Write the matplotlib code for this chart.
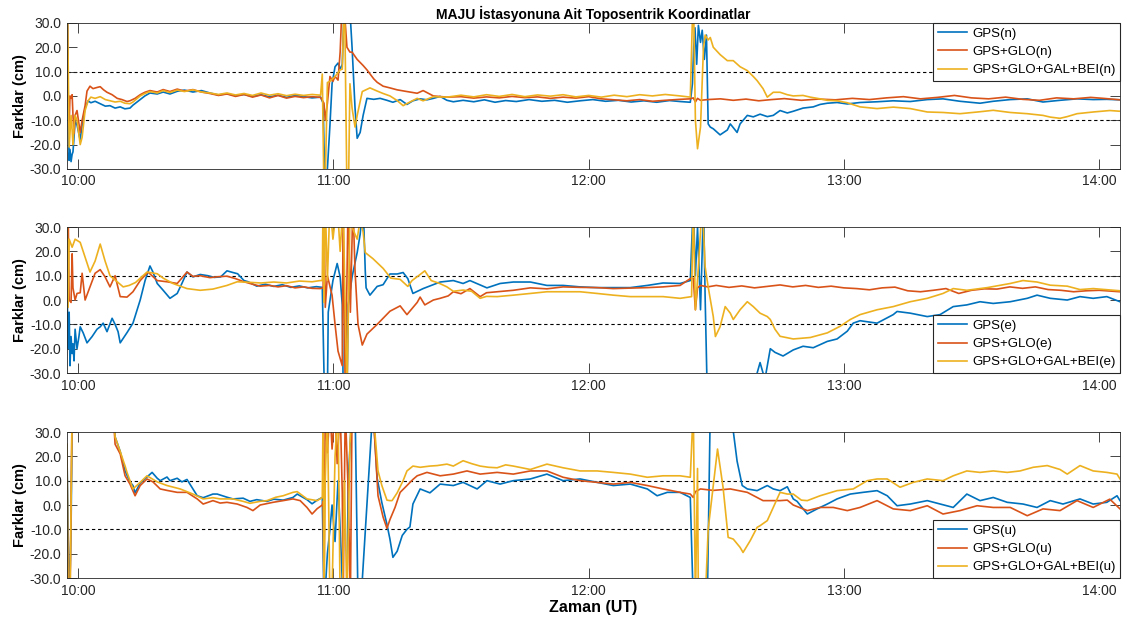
import numpy as np
import matplotlib
matplotlib.use("Agg")
import matplotlib.pyplot as plt

plt.rcParams["font.family"] = ["Liberation Sans", "DejaVu Sans"]

# Time axis: minutes after 10:00 UT; values: coordinate differences in cm.
TICK_MIN = [0, 60, 120, 180, 240]
TICK_LABELS = ["10:00", "11:00", "12:00", "13:00", "14:00"]
Y_TICKS = [-30, -20, -10, 0, 10, 20, 30]

SERIES_NAMES = ["GPS", "GPS+GLO", "GPS+GLO+GAL+BEI"]

# ── North component ───────────────────────────────────────────────────────────
gps_n = [(-2.5, 35), (-2.3, -10), (-2.1, -26.5), (-1.9, -22), (-1.65, -27), (-1.4, -24), (-1.2, -23),
         (-0.95, -17), (-0.7, -10), (-0.25, -12), (0.5, -18), (0.95, -12), (1.65, -5), (2.35, -2),
         (3.0, -2.8), (4.0, -2.2), (5.2, -3.2), (6.4, -4.2), (7.5, -4), (8.7, -5), (9.9, -4.5),
         (11.0, -5.3), (12.2, -5), (12.9, -3.8), (14.6, -1.5), (15.7, 0), (16.9, 1.2), (18.6, 0.8),
         (20.0, 1.6), (21.6, 0.8), (23.3, 1.9), (25.0, 2.4), (27.0, 1.6), (29.0, 2.2), (31.0, 1.2),
         (33.0, 0.4), (35.0, 0.9), (37.0, 0.1), (39.0, 0.6), (41.0, -0.2), (43.0, 0.5), (45.0, -0.4),
         (47.0, 0.3), (49.0, -0.6), (51.0, 0.2), (53.0, -0.3), (55.0, -0.8), (57.0, -0.5), (57.6, -3),
         (57.8, -20), (58.1, -35), (58.6, -30), (59.2, -12), (59.7, 5), (60.4, 12), (61.1, 13.5),
         (61.6, 11), (62.1, 13), (62.6, 40), (63.2, 45), (63.9, 35), (64.4, 20), (65.1, -5),
         (65.6, -17.4), (66.3, -15), (67.0, -8), (67.9, -1), (69.5, -1.4), (71.0, -1), (72.6, -1.8),
         (74.0, -2.6), (75.7, -1.5), (77.3, -3.5), (78.7, -2), (80.4, -1.2), (82.0, -1.6), (83.5, -1.0),
         (85.1, -0.2), (86.7, -1.8), (88.2, -2.4), (90.5, -1.8), (93.0, -2.4), (95.5, -1.6),
         (98.0, -2.6), (100.5, -1.9), (103, -2.3), (106, -1.5), (109, -2.2), (112, -1.8), (115, -2.6),
         (118, -2.0), (121, -1.5), (124, -2.2), (127, -1.8), (130, -2.5), (133, -2.0), (136, -2.6),
         (139, -1.9), (141.5, -2.3), (143.9, -2.6), (144.4, 5), (144.7, 20), (145.0, 28), (145.4, 13),
         (145.8, 29), (146.3, 22), (146.7, 27), (147.2, 15), (147.7, 25), (148.1, -11.5),
         (148.6, -12.8), (149.3, -13.5), (150.9, -16), (152.6, -14), (153.3, -11.5), (154.0, -13),
         (154.9, -15), (155.6, -11.5), (157.3, -8), (158.7, -8.6), (160.3, -7.5), (162.0, -8.5),
         (163.4, -8.0), (165.0, -6), (166.7, -7), (168.1, -6.3), (170.4, -5), (172.8, -4.5),
         (174.4, -3.5), (176.1, -3), (178.4, -2.7), (180.8, -3.3), (183.8, -2.7), (187.8, -2.4),
         (191.6, -2.0), (195.6, -2.3), (199.6, -1.5), (203.3, -1.2), (207.3, -2.2), (212.0, -3.0),
         (215.1, -2.2), (219.1, -1.5), (223.1, -1.2), (226.8, -2.5), (230.8, -1.8), (234.8, -1.2),
         (238.6, -1.5), (241.8, -1.4), (244.9, -1.6)]

glo_n = [(-2.5, 35), (-2.3, -2), (-2.1, -12), (-1.9, 0), (-1.6, -1), (-1.4, 0.5), (-1.2, -8),
         (-0.95, -15.5), (-0.7, -8), (-0.25, -6), (0.5, -15), (0.95, -10), (1.65, -4), (2.1, 2),
         (2.8, 4), (3.5, 3), (4.5, 3.5), (5.2, 3.8), (6.0, 2.5), (6.8, 1.5), (8.0, 0.5), (9.2, -1),
         (10.3, -1.5), (11.5, -2.3), (12.2, -2.0), (13.4, -1), (14.6, 0.5), (15.7, 1.5), (16.9, 2.2),
         (18.6, 1.6), (20.0, 2.6), (21.6, 1.8), (23.3, 2.8), (25.0, 2.0), (27.0, 2.6), (29.0, 1.6),
         (31.0, 1.0), (33.0, 0.2), (35.0, 0.8), (37.0, -0.2), (39.0, 0.6), (41.0, -0.5), (43.0, 0.4),
         (45.0, -0.8), (47.0, 0.2), (49.0, -0.9), (51.0, -0.2), (53.0, -0.7), (55.0, -0.3),
         (57.0, -0.6), (57.8, -3), (58.1, -10), (58.6, -3), (59.2, 8), (59.9, 6), (60.4, 8),
         (61.1, 6.5), (61.6, 18), (62.1, 40), (62.6, 35), (63.2, 20), (63.9, 18), (64.4, 18),
         (65.6, 15), (67.0, 12.5), (67.9, 10.7), (69.5, 7), (70.3, 5.6), (71.7, 4), (73.3, 3.3),
         (75.0, 2.5), (77.3, 1.8), (79.7, 1.1), (81.1, 2.2), (83.5, 0), (86.7, -0.5), (90, -0.3),
         (93, -0.9), (96, -0.4), (99, -0.8), (102, -0.2), (105, -0.7), (108, -0.4), (111, -1.0),
         (114, -0.5), (117, -0.9), (120, -0.3), (123, -1.2), (126, -1.6), (129, -2.0), (132, -1.5),
         (135, -2.2), (138, -1.8), (141.5, -1.4), (143.9, -1.2), (144.6, -0.8), (145.1, -2.5),
         (145.6, -1.0), (146.3, -1.8), (148, -1.5), (151, -1.2), (154, -1.8), (157, -1.3),
         (160, -2.0), (163, -1.5), (166, -1.1), (170, -1.8), (174, -1.3), (178, -1.6), (182, -1.0),
         (186, -1.5), (190, -0.8), (194, -0.3), (198, -1.2), (202, -0.6), (206, 0.2), (210, -0.8),
         (214, -1.2), (218, -0.5), (222, -1.4), (226, -1.8), (230, -0.8), (234, -1.2), (238, -0.6),
         (241, -1.0), (244.9, -1.6)]

all_n = [(-2.5, 35), (-2.3, 10), (-2.1, -21), (-1.9, -15), (-1.65, -8), (-1.4, -14), (-1.2, -20),
         (-0.95, -12), (-0.7, -8), (-0.25, -10), (0.5, -20), (0.95, -17), (1.65, -6), (2.35, -2),
         (3.0, -0.5), (4.0, -1), (5.2, -0.3), (6.4, -1.5), (7.5, -2), (8.7, -2.5), (9.9, -2.2),
         (11.0, -3), (12.2, -3.2), (12.9, -2.5), (14.6, 0), (15.7, 1), (16.9, 1.8), (18.6, 1.2),
         (20.0, 2.2), (21.6, 1.4), (23.3, 2.4), (25.0, 1.8), (27.0, 2.5), (29.0, 1.6), (31.0, 1.2),
         (33.0, 0.6), (35.0, 1.2), (37.0, 0.4), (39.0, 1.0), (41.0, 0.2), (43.0, 1.2), (45.0, 0.3),
         (47.0, 0.9), (49.0, 0.1), (51.0, 0.7), (53.0, 0.2), (55.0, 0.6), (57.0, 0.3), (57.4, 9),
         (57.8, -40), (58.1, -35), (58.6, 5.5), (59.2, 6), (60.4, 8), (61.1, 9.5), (61.6, 10.7),
         (62.1, 11), (62.6, 45), (63.2, -40), (63.5, -45), (63.9, 5), (64.4, -5), (65.1, -12.8),
         (65.6, -8), (66.8, 1.8), (68.6, 3.3), (70.3, 2), (71.7, 1), (73.3, 0), (75.0, -1.9),
         (76.4, -4), (78.0, -2.5), (79.7, -1), (81.1, -2), (83.5, -0.3), (86.7, -0.5), (90, 0.3),
         (93, -0.4), (96, 0.5), (99, -0.2), (102, 0.6), (105, -0.3), (108, 0.4), (111, -0.1),
         (114, 0.5), (117, -0.4), (120, 0.2), (123, -0.5), (126, 0.3), (129, -0.3), (132, 0.5),
         (135, 0.0), (138, 0.6), (141.5, 0), (143.9, -0.5), (144.6, 45), (145.1, -10), (145.6, -21.7),
         (146.3, -12.8), (147.0, 20), (147.4, 25), (148.1, 23), (148.6, 24), (149.3, 20), (150.9, 17),
         (152.6, 14.5), (154.0, 14.5), (155.6, 12), (157.3, 10.4), (158.7, 8), (159.6, 6.3),
         (161.0, 3), (162.0, -0.5), (163.4, 1.5), (165.0, 1.5), (166.7, 0.5), (168.1, 0), (170.4, 0.2),
         (172.1, -0.5), (174.4, -1.2), (176.1, -1.8), (178.4, -2.0), (180.8, -2.8), (183.8, -4.5),
         (187.8, -5.2), (191.6, -4.6), (195.6, -5.2), (199.6, -6.6), (203.3, -6.8), (207.3, -7.3),
         (212.0, -6.5), (215.1, -5.9), (219.1, -6.8), (223.1, -7.3), (226.8, -8), (228.5, -8.7),
         (230.8, -9.2), (232.5, -8.5), (234.8, -7.3), (238.6, -6.6), (242.5, -6.0), (244.9, -6.3)]

# ── East component ────────────────────────────────────────────────────────────
gps_e = [(-2.6, 9), (-2.35, -20), (-2.1, -5), (-1.9, -27), (-1.65, -15), (-1.4, -22), (-1.2, -18),
         (-0.95, -25), (-0.7, -12), (-0.25, -20), (0.2, -15), (0.5, -11), (1.2, -13.5), (2.1, -17.6),
         (3.3, -15), (4.45, -12), (5.2, -11), (5.9, -9.5), (6.8, -13), (8.0, -7.5), (8.7, -10),
         (9.4, -13), (9.9, -17.6), (11.5, -13.4), (12.9, -9.5), (14.6, 0), (15.75, 8), (16.9, 14),
         (17.6, 11.5), (18.6, 6.8), (20.0, 4), (21.6, 0.7), (23.3, 2.7), (24.4, 6.8), (25.6, 11.5),
         (27.0, 9.5), (28.7, 10.5), (30.5, 10), (32.0, 9.3), (33.5, 9.5), (35.0, 12), (36.4, 11.3),
         (37.5, 10.8), (39.0, 8), (40.0, 7.5), (42.0, 5.7), (44.0, 6.5), (46.0, 5.6), (48.0, 6.3),
         (50.0, 5.2), (52.0, 5.8), (54.0, 5.0), (56.0, 5.5), (57.4, 5.2), (57.8, -30), (58.1, -45),
         (58.6, -40), (58.8, -5), (59.9, 8), (60.9, 15), (61.6, 9.5), (62.1, -2), (62.3, -35),
         (63.2, -40), (63.5, -2), (64.4, 9.5), (65.6, 19.5), (66.3, 27), (67.0, 40), (67.5, 12),
         (67.7, 5), (68.6, 2), (70.3, 5.6), (71.7, 6.3), (73.3, 10.7), (75.0, 10.7), (76.4, 11.3),
         (77.5, 8.8), (78.7, 2.7), (81.1, 4.7), (85.1, 7.4), (88.2, 8.0), (90.5, 6.8), (92.1, 8.0),
         (96.1, 5), (99.2, 6.8), (102.3, 7.4), (106.3, 7.4), (110.2, 6.0), (114.0, 6), (118.0, 5.4),
         (122.0, 5.1), (125.8, 5.1), (129.8, 5.1), (133.8, 6.0), (137.5, 7.0), (141.5, 6.8),
         (143.9, 8), (144.6, 40), (145.1, 10), (145.6, 30), (146.3, -4), (146.7, 20), (147.0, 40),
         (147.4, 0), (147.9, -40), (148.6, -45), (158, -40), (159.6, -30), (160.3, -25.7),
         (161.0, -30), (161.5, -32), (162.7, -20), (163.8, -21.5), (165.7, -23), (168.1, -20.5),
         (170.4, -19), (172.8, -19.6), (176.1, -17), (178.4, -16), (180.8, -12.8), (182.2, -9.5),
         (183.8, -8.5), (187.8, -9.5), (191.6, -6), (192.5, -4.7), (195.6, -5.4), (199.6, -6.8),
         (202.6, -6.0), (205.7, -2.7), (208.9, -2.0), (212.0, -0.7), (215.1, -1.4), (219.1, -0.7),
         (223.1, 0.7), (225.4, 2.0), (228.5, 0.7), (232.5, 0), (235.5, 1.4), (238.6, 0.7),
         (241.8, 1.4), (244.9, -0.7)]

glo_e = [(-2.6, 35), (-2.35, 40), (-2.1, 0), (-1.65, -1), (-1.4, 19), (-1.2, 5), (-0.7, 0),
         (-0.25, 2.7), (0.5, 3), (0.95, 11), (1.65, 0), (2.8, 5.4), (4.0, 11), (5.2, 12.5),
         (6.35, 9.5), (7.5, 5.4), (8.7, 10), (9.9, 1.4), (11.5, 1.2), (12.9, 3.4), (14.6, 8),
         (16.45, 11.5), (18.6, 8), (20.9, 7.5), (23.3, 6.8), (25.6, 11.5), (27.0, 9.7), (28.7, 10),
         (31.0, 9.2), (33.0, 9.6), (35.0, 9.8), (37.0, 8.8), (39.0, 7.5), (41.0, 6.5), (42.8, 5.7),
         (45.0, 6.0), (47.0, 5.4), (49.0, 5.9), (51.0, 5.0), (53.0, 5.4), (55.0, 4.8), (56.9, 4.7),
         (57.6, 5), (57.8, 40), (58.1, -3), (58.6, 10), (59.7, 2), (60.4, -10), (61.1, -21),
         (62.1, -27), (62.3, 40), (62.8, -40), (63.5, 45), (64.0, -5), (64.6, 40), (65.1, 12),
         (65.8, -10), (66.8, -18.5), (67.9, -14), (70.3, -10), (73.3, -4.6), (75.7, -2.4),
         (77.3, -6), (79.7, -1), (80.4, 1.2), (81.5, -2), (83.5, 0), (85.1, 0.7), (87, 1.7),
         (88.2, 3.4), (90, 2.6), (92.1, 4.7), (94.5, 1.4), (96, 3.0), (98.5, 3.4), (102.3, 4),
         (106.3, 5), (110.2, 4.6), (114.0, 5.4), (118.0, 5.2), (122.0, 5.1), (125.8, 4.7),
         (129.8, 4.9), (133.8, 5.1), (137.5, 5.4), (141.5, 6), (143.9, 8.8), (144.6, 9),
         (145.1, -4), (145.6, 5), (146.3, 6), (148, 5.4), (150, 6), (153, 5.2), (156, 5.8),
         (159, 5.0), (162, 5.6), (165, 6.2), (168, 5.4), (171, 6.0), (174, 5.2), (177, 5.7),
         (180, 5.0), (183, 4.7), (186, 4.2), (189, 5.0), (192, 5.3), (195, 3.8), (198, 3.4),
         (201, 4.0), (204, 4.7), (207, 2.7), (210, 4.0), (213, 4.6), (216, 4.5), (219, 5.4),
         (222, 4.8), (225, 5.4), (228, 4.3), (231, 4.0), (234, 3.4), (237, 3.8), (240, 4.0),
         (244.9, 3.4)]

all_e = [(-2.6, 40), (-2.35, -3), (-2.1, 25), (-1.4, 21.7), (-0.7, 25), (0.5, 23.7), (1.65, 17.6),
         (2.8, 11.5), (4.0, 16), (5.2, 23), (6.35, 16), (7.5, 10), (9.2, 7.5), (10.6, 5.4),
         (12.0, 6.0), (13.5, 7.2), (16.2, 11.5), (18.6, 10.8), (20.0, 9), (22.3, 6.8), (25.6, 4.7),
         (28.7, 4), (31.7, 4.5), (35.0, 6), (37.4, 7.5), (40, 7.3), (43, 7.0), (46, 7.4), (49, 7.0),
         (52, 7.8), (55, 7.5), (56.9, 8), (57.4, 8), (57.6, 45), (57.8, -1), (58.1, 40), (58.6, 8),
         (59.2, 40), (59.9, 25), (60.9, 40), (61.6, 20), (62.3, 40), (63.2, -40), (63.9, 35),
         (64.4, 30), (65.1, 27), (65.6, 25), (66.3, 33), (67.0, 28), (67.5, 19.5), (69.3, 17),
         (71.7, 13), (73.5, 9), (75.7, 8.5), (77.5, 5.6), (78.5, 8), (80.4, 10.5), (81.5, 12),
         (83, 8), (85, 6.8), (86.7, 5.4), (88.2, 3.6), (90.5, 4.1), (92.5, 3.6), (94.5, 0.7),
         (96, 1.5), (98.5, 1.4), (102.3, 2.0), (106.3, 2.7), (110.2, 3.4), (114.0, 3.4),
         (118.0, 3.4), (122.0, 2.7), (125.8, 2.0), (129.8, 1.4), (133.8, 1.4), (137.5, 1.4),
         (141.5, 0.7), (144.2, 1.4), (144.6, 40), (145.1, -4), (145.8, 13.5), (146.7, 40),
         (147.4, 13.5), (148.1, 5.4), (149.3, -6.8), (149.8, -15), (150.9, -11), (152.1, -2.7),
         (153.3, -5.4), (154.0, -8), (155.6, -4), (157.3, -0.7), (158.7, -2.7), (160.3, -5.4),
         (162.0, -6.8), (162.7, -8), (163.8, -12), (165.0, -14.9), (168.1, -16), (172.1, -15.4),
         (176.1, -13.5), (179.1, -10.8), (181.5, -8), (183.8, -6), (187.8, -4), (191.6, -2.7),
         (195.6, -0.7), (199.6, 0.7), (203.3, 2.7), (205.7, 4.7), (208.9, 4.0), (213.7, 5.1),
         (219.1, 6.8), (222.1, 8.0), (225.4, 7.4), (228.5, 6.1), (232.5, 5.7), (235.5, 4.3),
         (238.6, 4.7), (244.9, 3.8)]

# ── Up component ──────────────────────────────────────────────────────────────
gps_u = [(-2.6, 20), (-2.35, -10), (-2.1, -35), (-1.9, -30), (-1.65, -10), (-1.4, 35), (-1.0, 45),
         (8.0, 45), (8.7, 28), (9.9, 22), (11.05, 14), (12.2, 9.5), (12.9, 8), (13.4, 5), (14.6, 9),
         (16.2, 11.5), (17.4, 13.4), (18.6, 11), (19.3, 10), (20.9, 11.5), (21.6, 10), (23.3, 11),
         (24.4, 9.5), (25.6, 10.5), (28.0, 3.8), (29.4, 3), (31.7, 4.5), (32.7, 4.5), (35.0, 3.2),
         (36.4, 2.5), (38.8, 2.8), (40.4, 1.5), (42, 2.2), (44.4, 1.5), (46.0, 2.4), (48.2, 2.0),
         (50.5, 3.1), (51.5, 4.5), (53.8, 2.2), (55.0, 0.5), (56.2, 2.0), (57.4, 3.1), (57.8, -40),
         (58.1, -35), (58.6, -20), (59.2, -10), (59.7, 0), (60.4, -15), (61.1, 10), (61.6, -10),
         (62.3, -40), (63.2, -35), (63.5, 10), (64.4, 40), (65.1, 40), (65.8, -40), (66.3, -45),
         (69.3, 40), (70.3, 11), (71.4, 1), (72.6, -8), (73.3, -14), (74.0, -21.5), (75.0, -19),
         (76.2, -12.5), (77.3, -10), (78.0, -9), (78.7, 0.4), (80.4, 6.6), (82.7, 5), (85.1, 8.6),
         (88.2, 8), (90.5, 9.3), (93.8, 6.6), (96.1, 10), (99.2, 8.6), (102.3, 10), (106.3, 10.7),
         (110.2, 12.7), (114.0, 10), (118.0, 10.7), (122.0, 9.3), (125.8, 8), (129.8, 8.6),
         (133.8, 6.6), (136.1, 3.8), (138.5, 5.2), (141.5, 5.2), (143.9, 3.1), (144.6, -40),
         (147.9, -40), (148.6, 40), (153.3, 40), (154.9, 18), (156.1, 8), (157.3, 6.6), (159.6, 5.9),
         (162.0, 8), (163.4, 6.6), (165.0, 5.9), (166.7, 7.5), (168.1, 2.5), (169.0, 1.5),
         (171.4, -3.7), (173.7, -1.6), (176.1, 0.4), (178.4, 2.5), (181.5, 4.5), (184.5, 5.2),
         (187.8, 5.9), (190.2, 3.8), (192.5, -0.3), (195.6, 0.4), (199.6, 1.8), (202.6, 0.4),
         (205.7, -1), (208.9, 4.5), (212.0, 1.8), (215.1, 3.1), (218.4, 1.1), (222.1, 0.4),
         (225.4, -1), (228.5, 1.8), (231.5, 0.4), (235.5, 2.5), (238.6, 0.4), (241.8, 1.1),
         (244.2, 3.8), (244.9, 1.8)]

glo_u = [(-2.6, 21), (-2.35, -40), (-1.9, -40), (-1.4, 40), (-1.0, 45), (8.0, 45), (8.7, 25),
         (9.9, 21), (11.05, 12), (12.2, 8.6), (13.4, 3.8), (14.6, 8), (16.2, 10.7), (17.6, 9.5),
         (19.3, 6.6), (20.9, 6.0), (23.3, 5.2), (25.6, 5.2), (28.0, 2.5), (29.4, 0.4), (31.7, 1.8),
         (33.4, 0.8), (35.0, 1.1), (37.4, 0.4), (39.7, -1), (41.1, -2.3), (42.8, 0), (45.8, 1.1),
         (48.2, 1.8), (50.5, 2.5), (52.2, 1.8), (53.8, -1.0), (55.0, -3.7), (56.2, -1.5), (57.4, 0),
         (57.6, 1.5), (57.8, -40), (58.1, 40), (58.6, 21.5), (59.2, 40), (59.7, 23), (60.4, 40),
         (60.9, 17), (61.6, 40), (62.1, 5), (62.3, -40), (62.8, 40), (63.5, 5), (64.0, -40),
         (64.4, 40), (69.3, 40), (70.5, 3.8), (71.7, -5), (72.6, -9.6), (73.3, -6), (74.5, -1),
         (75.7, 5.2), (77.3, 8), (78.7, 10.5), (79.7, 12), (82.0, 13.4), (85.1, 12), (88.2, 12.7),
         (91.4, 14), (94.5, 12.7), (98.5, 13.4), (102.3, 12.7), (106.3, 14), (110.2, 14),
         (114.0, 11.4), (118.0, 10), (122.0, 9.3), (125.8, 8.6), (129.8, 9.3), (133.8, 8),
         (137.5, 6.6), (141.5, 5.2), (143.9, 4.5), (144.6, 3.1), (145.1, 5.5), (146.3, 6.6),
         (149.3, 6), (153.3, 6.6), (157.3, 5.2), (161.0, 1.8), (165.0, 1.8), (166.7, 2.0), (168.1, 0),
         (171.4, -2.3), (174.4, -1), (177.5, -1), (180.8, -2.3), (183.8, -1), (187.8, 1.8),
         (191.6, -1.6), (195.6, -2.3), (199.6, -0.3), (203.3, -3.7), (207.3, -2.3), (211.3, -0.3),
         (215.1, -1), (219.1, -1), (223.1, -4.4), (226.8, -1.6), (230.8, -2.3), (234.8, 1.8),
         (238.6, -1), (242.5, 2.4), (244.9, -1.6)]

all_u = [(-2.6, 25), (-2.35, -40), (-1.9, -40), (-1.4, 40), (-1.0, 45), (8.0, 45), (8.7, 28),
         (9.9, 22), (11.05, 16), (11.5, 13.4), (12.9, 6.6), (14.6, 9.3), (16.2, 12), (18.6, 9.5),
         (20.9, 8), (24.0, 6.6), (27.0, 4.5), (29.4, 2.5), (31.7, 3.0), (33.4, 2.5), (36.4, 2.5),
         (38.8, 1.5), (40.4, 0.7), (42.8, 1.5), (44.4, 1.8), (46.5, 3.2), (48.2, 3.8), (50.5, 5.2),
         (51.5, 5.5), (53.8, 2.5), (56.2, 1.8), (57.4, 3.1), (57.6, 40), (57.8, -40), (58.1, 10),
         (58.6, 40), (59.2, -40), (59.7, -35), (60.4, 20), (61.1, 40), (61.6, -40), (62.1, -40),
         (62.6, 10), (63.2, -40), (63.9, 25), (64.4, 40), (69.3, 40), (70.5, 14), (71.4, 8),
         (72.6, 2), (73.3, 1.8), (73.8, 1.8), (75.0, 5), (76.4, 10), (77.3, 14), (78.7, 16),
         (80.4, 15.5), (82.7, 16), (84.4, 16.2), (86.7, 16.8), (88.2, 16), (90.5, 18.2), (92.5, 17),
         (94.5, 16), (96.5, 15.5), (98.5, 15.3), (100.5, 16.5), (102.3, 16), (106.3, 14.6),
         (110.2, 16.8), (114.0, 15.3), (118.0, 14), (122.0, 14), (125.8, 13.4), (129.8, 12.7),
         (133.8, 11.4), (137.5, 12), (141.5, 12), (143.9, 11.4), (144.6, 40), (145.1, -40),
         (145.6, 15), (145.8, -40), (147.4, -40), (148.1, -10), (149.3, 8), (150.3, 23),
         (151.6, 7.3), (152.8, -13.3), (154.0, -14), (155.6, -17.4), (156.3, -19.5), (158.0, -14.6),
         (159.6, -9.2), (160.3, -8.5), (162.0, -6.4), (163.4, -1), (165.0, 5.2), (166.7, 4.5),
         (168.1, 4.5), (170, 2.0), (171.4, 1.8), (174.4, 3.8), (178.4, 5.9), (182.2, 6.6),
         (185.5, 10), (187.8, 10.7), (190.2, 10.7), (193.2, 7.3), (196.3, 9.3), (199.6, 10.7),
         (203.3, 10), (205.7, 12), (208.9, 14), (212.0, 13.4), (215.1, 14), (218.4, 13.4),
         (221.4, 14), (224.5, 15.5), (227.8, 16.2), (230.8, 14.6), (232.5, 12.7), (235.5, 16.2),
         (238.6, 14), (241.8, 13.4), (244.2, 12.7), (244.9, 10.7)]

PANELS = [
    ("n", [gps_n, glo_n, all_n], "upper right"),
    ("e", [gps_e, glo_e, all_e], "lower right"),
    ("u", [gps_u, glo_u, all_u], "lower right"),
]

COLORS = ["#0072BD", "#D95319", "#EDB120"]
AX_COLOR = "#262626"

fig = plt.figure(figsize=(11.32, 6.28), dpi=100)
bottoms = [0.731, 0.406, 0.0796]

for (comp, series, loc), bottom in zip(PANELS, bottoms):
    ax = fig.add_axes([0.0592, bottom, 0.9302, 0.2325])

    for pts, color, name in zip(series, COLORS, SERIES_NAMES):
        t, v = np.array(pts).T
        ax.plot(t, v, color=color, lw=1.2, label=f"{name}({comp})")

    # +/-10 cm reference levels
    for level in (10, -10):
        ax.axhline(level, color="k", lw=0.8, ls=(0, (3, 2.5)), zorder=0.5)

    ax.set_xlim(-2.6, 244.9)
    ax.set_ylim(-30, 30)
    ax.set_xticks(TICK_MIN)
    ax.set_xticklabels(TICK_LABELS)
    ax.set_yticks(Y_TICKS)
    ax.set_yticklabels([f"{v:.1f}" for v in Y_TICKS])
    ax.tick_params(direction="in", length=7, width=0.6, top=True, right=True,
                   labelsize=10, colors=AX_COLOR, pad=4)
    for sp in ax.spines.values():
        sp.set_color(AX_COLOR)
        sp.set_linewidth(0.6)
    ax.set_ylabel("Farklar (cm)", fontsize=10.5, fontweight="bold", labelpad=2)

    leg = ax.legend(loc=loc, borderaxespad=0, fancybox=False, framealpha=1,
                    edgecolor=AX_COLOR, fontsize=9.5, handlelength=2.2,
                    handletextpad=0.4, labelspacing=0.45, borderpad=0.35)
    leg.get_frame().set_linewidth(0.8)

    if comp == "n":
        ax.set_title("MAJU İstasyonuna Ait Toposentrik Koordinatlar",
                     fontsize=10, fontweight="bold", pad=3)
    if comp == "u":
        ax.set_xlabel("Zaman (UT)", fontsize=11.5, fontweight="bold", labelpad=2)

fig.savefig("out.png", dpi=100)
